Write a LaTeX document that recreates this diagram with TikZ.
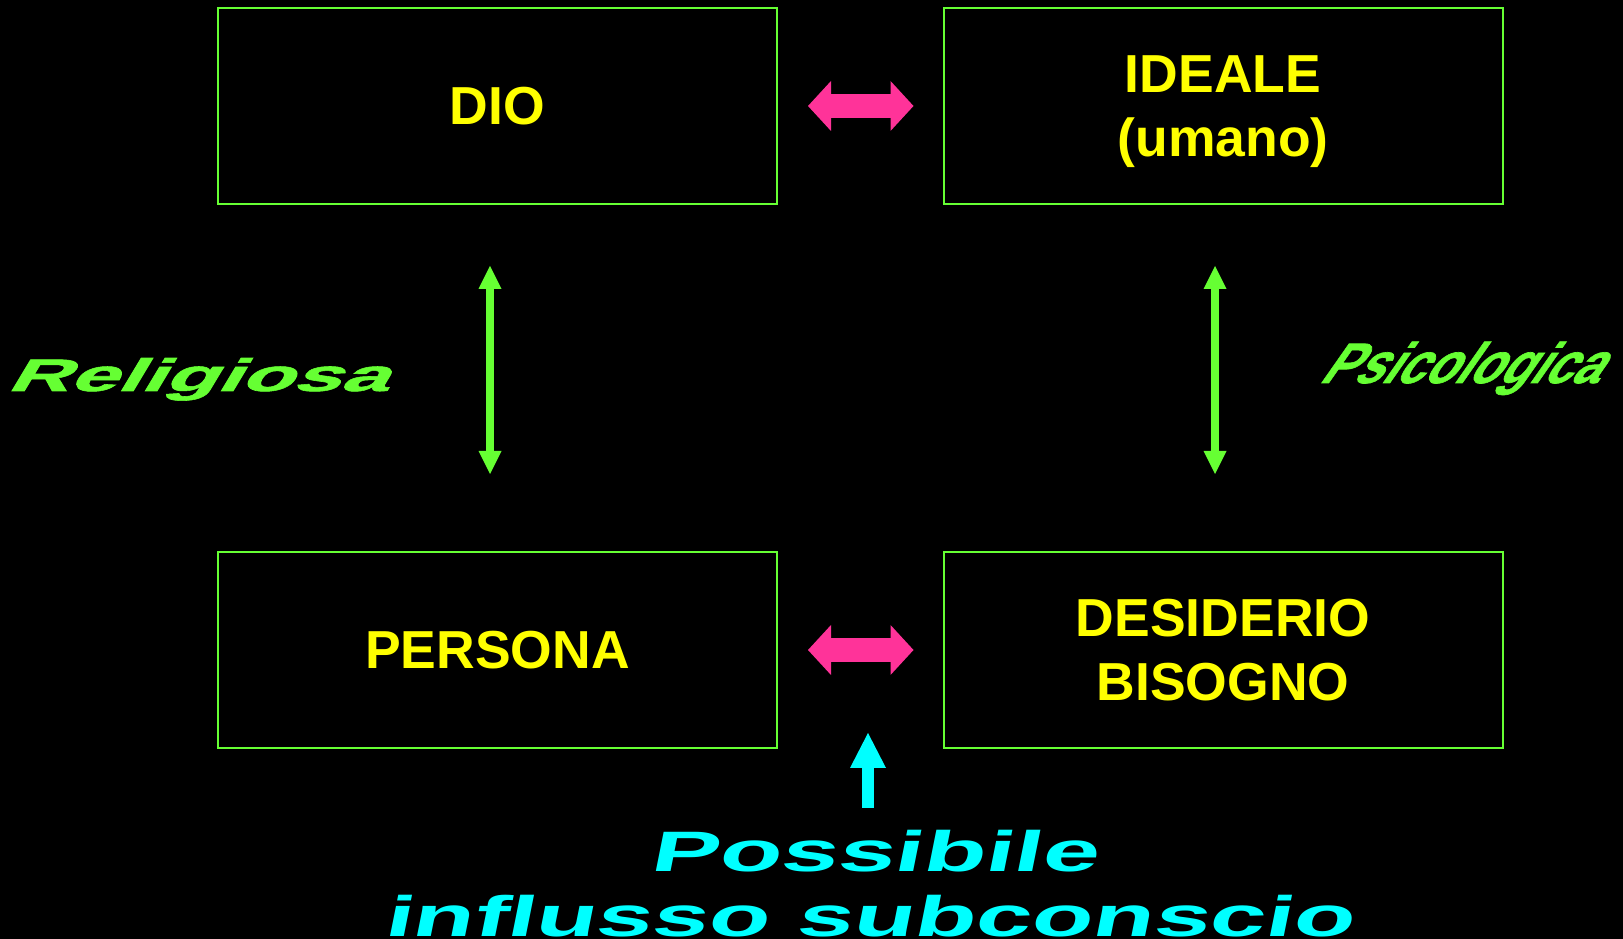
\documentclass[tikz,border=0pt]{standalone}
\usepackage{fontspec}
\usepackage{graphicx}
\setmainfont{Liberation Sans}
\newfontfamily\heavylabel[FakeBold=1.2]{Liberation Sans Bold}
\usetikzlibrary{arrows.meta}

\definecolor{boxgreen}{RGB}{102,255,51}
\definecolor{txtyellow}{RGB}{255,255,0}
\definecolor{linkpink}{RGB}{255,51,153}
\definecolor{hintcyan}{RGB}{0,255,255}

\tikzset{
  concept/.style={draw=boxgreen, line width=2pt, rectangle, inner sep=0pt,
    minimum width=559pt, minimum height=196pt, text=txtyellow, align=center,
    text depth=0pt, font=\fontsize{53.5pt}{64pt}\selectfont\bfseries},
  pinkarrow/.style={draw=linkpink, line width=24pt,
    {Triangle[width=50pt,length=23pt,line width=0pt]}-{Triangle[width=50pt,length=23pt,line width=0pt]}},
  greenarrow/.style={draw=boxgreen, line width=8pt,
    {Triangle[width=23pt,length=23pt,line width=0pt]}-{Triangle[width=23pt,length=23pt,line width=0pt]}},
  cyanarrow/.style={draw=hintcyan, line width=12pt,
    -{Triangle[width=36pt,length=35pt,line width=0pt]}},
  sidelabel/.style={text=boxgreen, inner sep=0pt, anchor=base west, transform shape},
  hintlabel/.style={text=hintcyan, inner sep=0pt, anchor=base, transform shape}
}

\begin{document}
\begin{tikzpicture}[x=1pt,y=1pt]
  % canvas
  \fill[black] (0,0) rectangle (1623,939);
  \useasboundingbox (0,0) rectangle (1623,939);

  % the four concepts
  \node[concept] (dio)   at (497.5,833) {DIO};
  \node[concept] (ideale) at (1223,833) {IDEALE\\(umano)};
  \node[concept] (persona) at (497.5,289) {PERSONA};
  \node[concept] (desiderio) at (1223,289) {DESIDERIO\\BISOGNO};

  % horizontal links
  \draw[pinkarrow] ([xshift=30pt]dio.east) -- ([xshift=-29pt]ideale.west);
  \draw[pinkarrow] ([xshift=30pt]persona.east) -- ([xshift=-29pt]desiderio.west);

  % vertical links
  \draw[greenarrow] ([xshift=-7.5pt,yshift=-61pt]dio.south) -- ([xshift=-7.5pt,yshift=77pt]persona.north);
  \draw[greenarrow] ([xshift=-8pt,yshift=-61pt]ideale.south) -- ([xshift=-8pt,yshift=77pt]desiderio.north);

  % side labels
  \begin{scope}[shift={(6,548)}, xslant=0.6]
    \node[sidelabel] (relig) at (0,0)
      {\scalebox{1.88}[1]{\fontsize{45.5pt}{50pt}\heavylabel Religiosa}};
  \end{scope}
  \begin{scope}[shift={(1318,556)}, xslant=0.7]
    \node[sidelabel] (psico) at (0,0)
      {\scalebox{0.88}[1]{\fontsize{57pt}{60pt}\heavylabel Psicologica}};
  \end{scope}

  % subconscious influence
  \begin{scope}[shift={(873,67)}, xslant=0.2]
    \node[hintlabel] (poss) at (0,0)
      {\scalebox{1.79}[1]{\fontsize{57pt}{64pt}\selectfont\bfseries Possibile}};
  \end{scope}
  \begin{scope}[shift={(868,2)}, xslant=0.2]
    \node[hintlabel] (infl) at (0,0)
      {\scalebox{1.76}[1]{\fontsize{57pt}{64pt}\selectfont\bfseries influsso subconscio}};
  \end{scope}
  \coordinate (hinttail) at (868,131);
  \coordinate (hinttip) at (868,206);
  \draw[cyanarrow] (hinttail) -- (hinttip);
\end{tikzpicture}
\end{document}
